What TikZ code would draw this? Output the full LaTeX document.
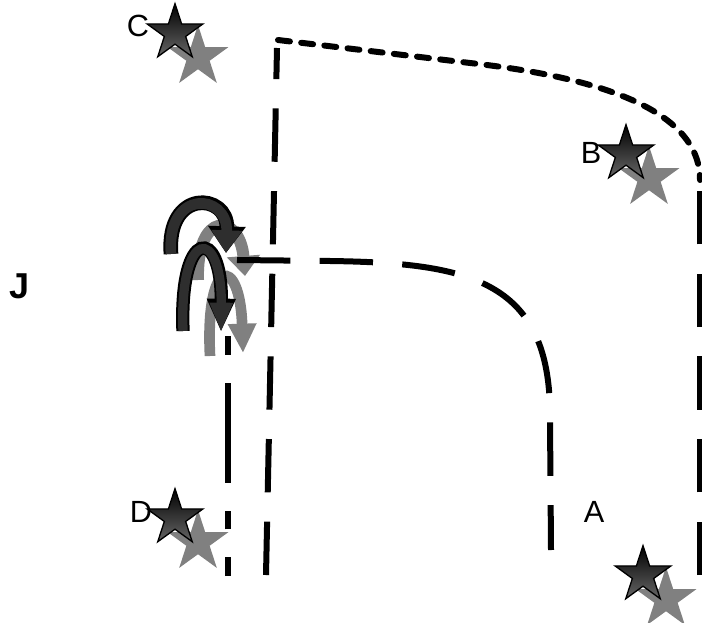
\documentclass[tikz,border=0pt]{standalone}
\usepackage{fontspec}
\setmainfont{Liberation Sans}
\usetikzlibrary{arrows.meta, shapes.geometric}

\begin{document}
\begin{tikzpicture}[x=0.75pt, y=-0.75pt, font=\fontsize{23}{27}\selectfont,
	longdash/.style={line width=4.5pt, dash pattern=on 40pt off 22pt},
	shortdash/.style={line width=4.5pt, line cap=round, dash pattern=on 9pt off 8.5pt},
	dotdotdash/.style={line width=4.5pt, dash pattern=on 14pt off 21pt on 14pt off 21pt on 75pt off 21pt},
	darkstar/.style={star, star points=5, star point ratio=2.618, minimum size=44pt, inner sep=0pt,
		draw=black, line width=1pt, top color=black, bottom color=black!60},
	greystar/.style={star, star points=5, star point ratio=2.618, minimum size=48pt, inner sep=0pt,
		fill=black!50},
	greyarc/.style={draw=black!50, line width=9pt},
	darkarc/.style={draw=black!82, line width=8pt}]
	
	\useasboundingbox (0,0) rectangle (702,623);
	
	% stars
	\node[greystar] (starCg) at (198,57) {};
	\node[darkstar] (starC) at (175,33) {};
	\node[greystar] (starBg) at (649,178) {};
	\node[darkstar] (starB) at (626,154) {};
	\node[greystar] (starDg) at (198,542) {};
	\node[darkstar] (starD) at (175,518) {};
	\node[greystar] (starAg) at (666,599) {};
	\node[darkstar] (starA) at (643,575) {};
	
	\node (labC) at (138,26) {C};
	\node (labB) at (591,153) {B};
	\node (labD) at (141,512) {D};
	\node (labA) at (594,512) {A};
	\node[font=\fontsize{27}{30}\selectfont\bfseries] (labJ) at (20,286) {J};
	
	% grey arcs
	\draw[greyarc, -{Triangle[length=15pt, width=24pt]}] (198,280) .. controls (196,210) and (240,213) .. (245,276);
	\draw[greyarc, line width=8pt, -{Triangle[length=22pt, width=20pt]}] (210,356) .. controls (205,255) and (240,255) .. (243,353);
	
	% outer route
	\draw[longdash] (266,575) -- (277,48);
	\draw[shortdash] (278,40) -- (470,63) .. controls (605,78) and (700,112) .. (700,180);
	\draw[longdash] (700,575) -- (700,180);
	
	% inner route
	\draw[dotdotdash] (228,576) -- (228,335);
	\draw[longdash] (237,260) -- (330,261) .. controls (470,263) and (552,280) .. (550,420) -- (551,550);
	
	% dark arcs
	\draw[darkarc, -{Triangle[length=17pt, width=22pt]},
		preaction={draw=black, line width=11pt, -{Triangle[length=20pt, width=27pt]}}]
		(171,254) .. controls (166,188) and (228,193) .. (226,253);
	\draw[darkarc, line width=7pt, -{Triangle[length=22pt, width=16pt]},
		preaction={draw=black, line width=10pt, -{Triangle[length=25pt, width=20pt]}}]
		(183,331) .. controls (179,226) and (222,226) .. (221,332);
\end{tikzpicture}
\end{document}
